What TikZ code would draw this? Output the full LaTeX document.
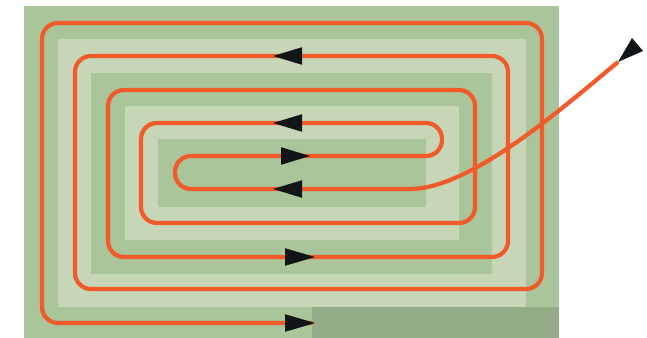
\documentclass[tikz,border=0pt]{standalone}
\usetikzlibrary{calc}
\definecolor{bandA}{HTML}{ABC59B}
\definecolor{bandB}{HTML}{C6D6B7}
\definecolor{mfold}{HTML}{93AB87}
\definecolor{pipeor}{HTML}{F15A29}
\definecolor{tipblk}{HTML}{121517}
\tikzset{
  darkband/.style={fill=bandA},
  lightband/.style={fill=bandB},
  pipe/.style={draw=pipeor,line width=3.6pt},
  tipfill/.style={fill=tipblk}
}

\begin{document}
\begin{tikzpicture}[x=0.03cm,y=-0.03cm]
  \useasboundingbox (0,0) rectangle (647,338);

  % floor bands
  \fill[darkband] (24,6) rectangle (559,338);
  \foreach \a/\b/\c/\d/\s in {58/39/526/307/lightband, 91/73/492/274/darkband,
                              125/106/459/240/lightband, 158/139/426/207/darkband}
    \fill[\s] (\a,\b) rectangle (\c,\d);
  \fill[mfold] (312,307) rectangle (559,338);

  % pipe loop
  \coordinate (inlet) at (618,62);
  \coordinate (outlet) at (312,323);
  \draw[pipe] (inlet) .. controls (560,110) and (470,189) .. (410,189)
    [rounded corners=0.48cm] -- (175,189) -- (175,156) -- (442,156) -- (442,123)
    -- (141,123) -- (141,223) -- (475,223) -- (475,90) -- (108,90) -- (108,257)
    -- (508,257) -- (508,56) -- (75,56) -- (75,289) -- (542,289) -- (542,23)
    -- (42,23) -- (42,323) -- (outlet);

  % flow arrows
  \foreach \y in {56, 123, 189}
    \fill[tipfill] (273,\y) -- (302,\y-8.8) -- (302,\y+8.8) -- cycle;
  \fill[tipfill] (310,156) -- (281,147.2) -- (281,164.8) -- cycle;
  \foreach \y in {257, 323}
    \fill[tipfill] (315,\y) -- (285,\y-8.8) -- (285,\y+8.8) -- cycle;
  \fill[tipfill] (inlet) -- (632,38) -- (643,51) -- cycle;
\end{tikzpicture}
\end{document}
